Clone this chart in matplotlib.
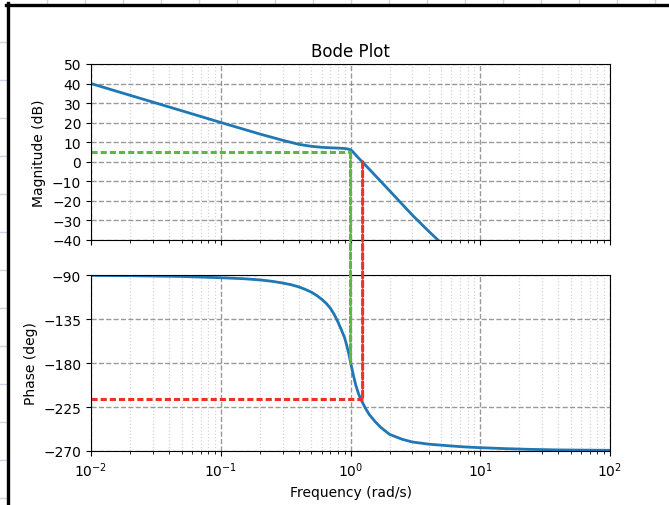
import matplotlib
matplotlib.use("Agg")
import matplotlib.pyplot as plt
from matplotlib.lines import Line2D
from matplotlib.patches import ConnectionPatch

# ---------------------------
# Values
# ---------------------------
mag_freq = [0.01, 0.02, 0.05, 0.1, 0.2, 0.3, 0.4, 0.5, 0.6, 0.7, 0.8, 0.9,
            0.96, 1.0, 1.03, 1.08, 1.15, 1.24, 1.5, 2.0, 3.0, 4.0, 4.75, 5.0]
mag_db = [40.0, 34.0, 26.1, 20.1, 14.2, 11.0, 8.9, 7.9, 7.4, 7.15, 7.0, 6.8,
          6.5, 6.1, 5.5, 4.0, 2.0, -0.2, -6.0, -14.8, -27.3, -35.5, -40.2, -41.6]

phase_freq = [0.01, 0.02, 0.05, 0.1, 0.15, 0.2, 0.25, 0.3, 0.35, 0.4, 0.45,
              0.5, 0.55, 0.6, 0.65, 0.7, 0.75, 0.8, 0.85, 0.9, 0.935, 0.97,
              1.0, 1.05, 1.1, 1.15, 1.2, 1.3, 1.4, 1.55, 1.7, 2.0, 2.5, 3.0,
              4.0, 5.5, 7.5, 10.0, 15.0, 24.0, 40.0, 100.0]
phase_deg = [-90.4, -90.7, -91.5, -92.8, -93.8, -95.0, -96.5, -98.2, -100.0,
             -102.2, -104.8, -107.6, -111.0, -114.8, -119.0, -124.0, -130.5,
             -138.0, -146.0, -154.0, -162.0, -170.5, -179.0, -192.0, -203.0,
             -211.0, -217.0, -226.0, -233.0, -240.0, -245.5, -253.0, -258.0,
             -260.8, -263.0, -264.5, -265.8, -266.6, -267.5, -268.3, -268.9,
             -269.3]

# gain margin (phase crossover) and phase margin (gain crossover)
w_pc, gm_mag, gm_phase = 1.0, 5.0, -180.0
w_gc, pm_mag, pm_phase = 1.24, 0.0, -216.5

mag_ticks = [50, 40, 30, 20, 10, 0, -10, -20, -30, -40]
phase_ticks = [-90, -135, -180, -225, -270]

green = "#5cb843"
red = "#ee3124"
dash = (0, (2.0, 1.0))

# ---------------------------
# Figure
# ---------------------------
fig = plt.figure(figsize=(6.69, 5.06), dpi=100)
W, H = 669, 506
ax1 = fig.add_axes([91 / W, 1 - 241 / H, 519 / W, 176 / H])
ax2 = fig.add_axes([91 / W, 1 - 452 / H, 519 / W, 176 / H], sharex=ax1)

for ax in (ax1, ax2):
    ax.set_xscale("log")
    ax.grid(True, which="major", linestyle="--", color="gray", alpha=0.8, linewidth=1.0)
    ax.grid(True, which="minor", linestyle=":", color="gray", alpha=0.35, linewidth=0.9)

ax1.plot(mag_freq, mag_db, color="#1f77b4", linewidth=2)
ax1.plot([0.01, w_pc], [gm_mag, gm_mag], color=green, linestyle=dash, linewidth=2.2)
ax1.set_ylim(-40, 50)
ax1.set_yticks(mag_ticks)
ax1.set_ylabel("Magnitude (dB)")
ax1.set_title("Bode Plot", fontsize=12)
ax1.tick_params(labelbottom=False)

ax2.plot(phase_freq, phase_deg, color="#1f77b4", linewidth=2)
ax2.plot([0.01, w_gc], [pm_phase, pm_phase], color=red, linestyle=dash, linewidth=2.2)
ax2.set_ylim(-270, -90)
ax2.set_yticks(phase_ticks)
ax2.set_ylabel("Phase (deg)")
ax2.set_xlabel("Frequency (rad/s)")
ax2.set_xlim(0.01, 100)

# vertical lines running across both axes
for w, m, p, c in [(w_pc, gm_mag, gm_phase, green), (w_gc, pm_mag, pm_phase, red)]:
    con = ConnectionPatch(xyA=(w, m), coordsA=ax1.transData,
                          xyB=(w, p), coordsB=ax2.transData,
                          color=c, linestyle=dash, linewidth=2.2, zorder=5)
    fig.add_artist(con)

# ---------------------------
# Screenshot frame around the figure
# ---------------------------
for x in range(47, W, 38):
    fig.add_artist(Line2D([x / W, x / W], [1 - 4 / H, 1], color="#c8d4ea", linewidth=1))
for y in range(43, H, 38):
    fig.add_artist(Line2D([0, 6 / W], [1 - y / H, 1 - y / H], color="#c8d4ea", linewidth=1))
fig.add_artist(Line2D([7.5 / W, 7.5 / W], [0, 1 - 4 / H], color="black", linewidth=2.4))
fig.add_artist(Line2D([6 / W, 1], [1 - 5.5 / H, 1 - 5.5 / H], color="black", linewidth=2.4))

fig.savefig("out.png", dpi=100)
